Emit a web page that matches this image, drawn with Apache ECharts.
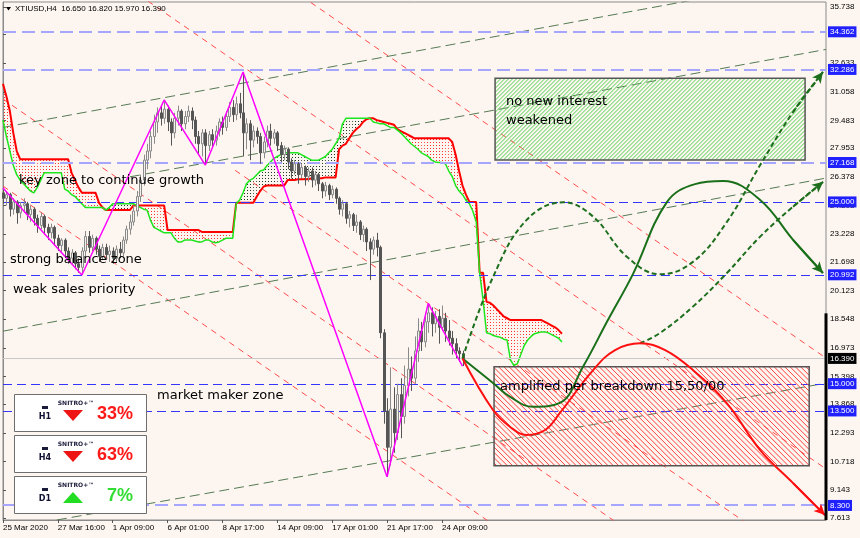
<!DOCTYPE html>
<html><head><meta charset="utf-8">
<script src="https://cdn.jsdelivr.net/npm/echarts@6/dist/echarts.min.js"></script>
<style>html,body{margin:0;padding:0;background:#fdf6f0}#c{width:860px;height:538px}</style>
</head><body><div id="c"></div>
<script>
// ---------------- data ----------------
const titleText = 'XTIUSD,H4  16.650 16.820 15.970 16.390';
const xLabelIdx = [0, 16, 32, 48, 64, 80, 96, 112, 128];
const xLabels = ['25 Mar 2020', '27 Mar 16:00', '1 Apr 09:00', '6 Apr 01:00', '8 Apr 17:00', '14 Apr 09:00', '17 Apr 01:00', '21 Apr 17:00', '24 Apr 09:00'];
const yTicks = [35.738, 34.208, 32.633, 31.058, 29.483, 27.953, 26.378, 24.803, 23.228, 21.698, 20.123, 18.548, 16.973, 15.398, 13.868, 12.293, 10.718, 9.143, 7.613];

// H4 candles: [open, close, low, high], one per bar index
const candles = [
[25.5,25.2,24.9,25.77],[25.2,25.4,24.8,25.6],[25.4,24.6,24.2,25.5],[24.6,25.0,24.3,25.2],[25.0,24.4,23.8,25.1],
[24.4,24.8,24.1,25.0],[24.8,24.9,24.4,25.2],[24.9,24.3,24.0,25.0],[24.3,24.6,23.9,24.8],[24.6,24.1,23.7,24.7],
[24.1,23.7,23.3,24.3],[23.7,24.2,23.5,24.4],[24.2,23.6,23.2,24.3],[23.6,23.3,22.9,23.8],[23.3,23.6,23.0,23.8],
[23.6,23.0,22.6,23.7],[23.0,22.6,22.3,23.2],[22.6,22.9,22.2,23.0],[22.9,22.3,22.0,23.0],[22.3,21.9,21.6,22.5],
[21.9,22.2,21.6,22.4],[22.2,21.6,21.3,22.3],[21.6,21.4,21.1,21.9],[21.4,22.3,20.98,22.5],[22.3,23.1,22.0,23.4],
[23.1,22.5,22.2,23.4],[22.5,23.0,22.3,23.2],[23.0,22.4,22.1,23.1],[22.4,22.0,21.7,22.6],[22.0,22.5,21.8,22.7],
[22.5,22.1,21.8,22.7],[22.1,22.3,21.7,22.6],[22.3,21.9,21.6,22.5],[21.9,22.4,21.7,22.6],[22.4,22.2,21.9,22.8],
[22.2,22.9,22.0,23.1],[22.9,23.5,22.7,23.7],[23.5,23.9,23.2,24.3],[23.9,24.5,23.7,24.8],[24.5,25.3,24.2,25.6],
[25.3,26.2,25.0,26.5],[26.2,27.3,25.9,27.6],[27.3,27.8,26.8,28.2],[27.8,28.6,27.4,28.9],[28.6,29.4,28.2,29.8],
[29.4,29.9,28.8,30.2],[29.9,29.6,29.2,30.3],[29.6,30.1,29.3,30.61],[30.1,29.4,28.9,30.3],[29.4,28.8,28.1,29.6],
[28.8,29.6,28.5,29.9],[29.6,30.0,29.2,30.3],[30.0,29.3,28.9,30.1],[29.3,29.7,29.0,30.0],[29.7,30.0,29.4,30.3],
[30.0,29.5,29.0,30.2],[29.5,28.6,28.2,29.7],[28.6,28.2,27.6,28.9],[28.2,28.8,27.5,29.0],[28.8,28.1,27.03,29.0],
[28.1,28.7,27.8,28.9],[28.7,28.4,28.0,29.0],[28.4,28.9,28.1,29.2],[28.9,29.4,28.6,29.6],[29.4,29.1,28.7,29.7],
[29.1,29.7,28.9,30.0],[29.7,30.2,29.4,30.5],[30.2,29.8,29.4,30.6],[29.8,30.4,29.5,30.8],[30.4,29.9,29.6,31.0],
[29.9,28.8,27.5,32.15],[28.8,29.3,27.9,29.6],[29.3,28.4,27.3,29.5],[28.4,28.9,28.0,29.2],[28.9,28.6,28.2,29.1],
[28.6,27.7,27.1,28.8],[27.7,28.3,27.4,28.6],[28.3,28.9,28.0,29.2],[28.9,28.5,28.1,29.3],[28.5,28.8,28.2,29.0],
[28.8,28.1,27.8,28.9],[28.1,27.6,27.2,28.3],[27.6,27.9,27.3,28.1],[27.9,27.2,26.8,28.0],[27.2,26.7,26.3,27.4],
[26.7,27.1,26.5,27.3],[27.1,26.5,26.0,27.2],[26.5,26.9,26.3,27.1],[26.9,26.4,25.9,27.0],[26.4,26.7,26.1,26.9],
[26.7,26.2,25.8,26.9],[26.2,26.5,25.9,26.7],[26.5,26.0,25.6,26.6],[26.0,25.6,25.2,26.1],[25.6,25.9,25.3,26.1],
[25.9,25.4,25.1,26.0],[25.4,25.7,25.2,25.9],[25.7,25.2,24.9,25.8],[25.2,24.6,24.3,25.3],[24.6,24.9,24.2,25.1],
[24.9,24.1,23.8,25.0],[24.1,24.3,23.6,24.5],[24.3,23.7,23.4,24.4],[23.7,23.9,23.3,24.3],[23.9,23.2,22.9,24.0],
[23.2,23.5,22.8,23.7],[23.5,22.8,22.3,23.6],[22.8,22.4,20.7,23.0],[22.4,22.9,22.1,23.1],[22.9,22.5,22.0,23.3],
[22.5,17.8,17.5,22.6],[17.8,13.5,12.8,18.0],[13.5,11.5,9.88,14.2],[11.5,13.6,10.5,15.9],[13.6,12.3,11.2,14.8],
[12.3,14.4,11.9,15.0],[14.4,13.2,12.0,15.3],[13.2,14.9,12.8,16.0],[14.9,15.8,14.3,17.0],[15.8,15.3,14.6,16.5],
[15.3,16.8,15.0,17.6],[16.8,17.9,16.2,18.6],[17.9,17.3,16.8,18.4],[17.3,18.4,17.0,18.9],[18.4,18.9,17.8,19.42],
[18.9,18.3,17.6,19.2],[18.3,18.7,17.8,19.0],[18.7,18.1,17.2,19.1],[18.1,18.6,17.9,19.3],[18.6,17.9,17.3,18.9],
[17.9,17.5,17.1,18.5],[17.5,17.2,16.6,17.9],[17.2,16.8,16.4,17.5],[16.8,16.65,16.2,17.0],[16.65,16.39,15.97,16.82]
];

// Ichimoku spans (red / green), one value per bar index (shifted forward)
const spanRed = [
31.5,30.8,30.0,28.8,27.8,27.35,27.35,27.35,27.35,27.35,
27.35,27.35,27.35,27.35,27.35,27.35,27.35,27.35,27.35,27.35,
26.6,26.2,25.8,25.5,25.5,25.5,25.5,25.5,24.95,24.7,
24.55,24.55,24.55,24.55,24.55,24.55,24.55,24.55,24.8,24.8,
24.8,24.8,24.8,24.8,24.8,24.8,24.8,24.8,23.45,23.45,
23.45,23.45,23.45,23.45,23.45,23.45,23.45,23.45,23.35,23.35,
23.35,23.35,23.35,23.35,23.35,23.35,23.35,23.35,24.95,24.95,
24.95,24.95,24.95,24.95,25.3,25.6,25.85,25.9,25.9,25.9,
25.9,25.9,25.9,26.2,26.2,26.2,26.25,26.25,26.25,26.25,
26.3,26.3,26.3,26.3,26.35,26.35,26.35,26.35,27.9,28.1,
28.2,28.5,28.8,29.0,29.15,29.4,29.55,29.6,29.6,29.5,
29.45,29.4,29.35,29.3,29.25,29.0,28.9,28.8,28.7,28.6,
28.5,28.5,28.5,28.5,28.5,28.5,28.5,28.5,28.5,28.5,
28.5,28.3,27.6,26.7,25.9,25.4,25.0,25.0,25.0,21.1,
21.1,19.5,19.45,19.3,19.1,18.9,18.7,18.6,18.5,18.5,
18.5,18.5,18.5,18.5,18.5,18.5,18.5,18.5,18.4,18.3,
18.2,18.1,17.95,17.75
];
const spanGreen = [
29.5,28.6,27.8,27.0,26.5,26.2,26.0,25.8,25.6,25.5,
25.8,26.2,26.6,26.6,26.6,26.6,26.6,26.6,25.7,25.6,
25.4,25.3,25.1,24.9,24.7,24.7,24.7,24.7,24.7,24.7,
24.55,24.7,24.9,24.9,24.9,24.9,24.9,24.9,24.9,24.8,
24.7,24.6,24.55,24.0,23.6,23.5,23.4,23.3,23.3,23.3,
23.0,22.8,22.8,22.9,22.9,22.9,22.85,22.8,22.8,22.9,
22.9,22.8,22.75,22.8,22.9,23.0,23.0,23.0,24.9,25.1,
25.5,26.0,26.2,26.3,26.5,26.7,26.76,27.0,27.2,27.4,
27.5,27.6,27.7,27.7,27.7,27.7,27.7,27.6,27.5,27.4,
27.3,27.3,27.3,27.4,27.5,27.7,27.9,28.2,28.5,29.3,
29.6,29.6,29.6,29.6,29.6,29.6,29.6,29.6,29.4,29.35,
29.3,29.3,29.2,29.1,29.1,28.95,28.8,28.6,28.4,28.2,
28.05,27.9,27.7,27.6,27.5,27.3,27.2,27.17,27.17,27.1,
26.7,26.4,25.9,25.6,25.4,25.1,24.9,24.5,23.9,21.1,
19.6,17.8,17.75,17.65,17.6,17.55,17.45,17.4,16.3,16.0,
16.1,16.6,17.1,17.4,17.6,17.75,17.8,17.85,17.85,17.8,
17.7,17.6,17.5,17.3
];

const zigzag = [[0,25.77],[23,20.98],[47,30.61],[59,27.03],[70,32.15],[112,9.88],[124,19.42],[134,15.97]];

// trend channel lines [bar, price] endpoints
const greenChannel1 = [[0,29.10],[240,37.46]];
const greenChannel2 = [[37,26.38],[240,33.39]];
const greenChannel3 = [[0,17.89],[240,26.31]];
const greenChannel4 = [[15.7,7.50],[240,15.03]];
const redLine1 = [[0,47.66],[240,16.41]];
const redLine2 = [[0,41.55],[240,10.31]];
const redLine3 = [[67.7,26.74],[240,4.31]];
const redLine4 = [[0,30.66],[240,-0.59]];
const redLine5 = [[0,25.87],[240,-5.38]];

const levelsMajor = [34.362, 32.286, 27.168, 8.300];
const levelsMinor = [25.000, 20.992, 15.000, 13.500];
const lastPrice = 16.390;
const scaleMarker = [[240,18.87],[240,7.5]];

// zones [barFrom, priceTop, barTo, priceBottom]
const greenZone = [143.5, 31.80, 233.9, 27.31];
const redZone = [143.2, 15.93, 235.1, 10.49];

// projected paths [bar, price]
const pathDashUp = [[134,16.39],[142.9,20.87],[152.7,24.01],[163.4,24.98],[172.1,24.19],[181.9,21.99],[191.6,21.02],[201.2,21.70],[211.1,23.90],[220.8,27.03],[230.4,29.95],[239.1,32.15]];
const pathDashUp2 = [[185.8,17.22],[191.6,17.79],[201.2,19.24],[211.1,21.09],[220.8,23.09],[230.4,24.74],[239.2,26.11]];
const pathGreen = [[134,16.39],[142.9,15.04],[147.9,14.27],[154.6,13.73],[162.4,13.94],[169.1,15.92],[176.4,18.50],[183.7,21.03],[193.6,24.99],[201.8,25.98],[210.0,26.15],[220.8,25.11],[230.4,22.91],[239.1,21.09]];
const pathRed = [[134,16.39],[142.9,13.55],[147.9,12.62],[152.7,12.18],[158.1,12.45],[162.4,13.39],[172.1,15.75],[178.5,16.85],[185.8,17.22],[193.1,16.85],[201.2,15.75],[211.1,13.92],[220.8,11.35],[230.4,9.53],[239.7,7.77]];

const noteTexts = ['key zone to continue growth', 'strong balance zone', 'weak sales priority', 'market maker zone', 'no new interest', 'weakened', 'amplified per breakdown 15,50/00'];
const panelFrames = ['H1', 'H4', 'D1'];
const panelValues = ['33%', '63%', '7%'];
const panelDirs = ['down', 'down', 'up'];
const panelBrand = 'SNITRO+™';

// ---------------- styles / helpers ----------------
function tile(size, color, pts) {
  const cv = document.createElement('canvas'); cv.width = size; cv.height = size;
  const ctx = cv.getContext('2d'); ctx.fillStyle = color;
  pts.forEach(p => ctx.fillRect(p[0], p[1], 1, 1));
  return { image: cv, repeat: 'repeat' };
}
const redDots = tile(3, '#ff2a2a', [[1,1]]);
const darkDots = tile(3, '#1e3a1e', [[1,1]]);

const candleData = candles.map((c, i) => [i, c[0], c[1], c[2], c[3]]);
const cloudData = [];
for (let i = 0; i < spanRed.length - 1; i++) cloudData.push([i, spanRed[i], spanGreen[i], spanRed[i+1], spanGreen[i+1]]);

const AXF = 'Liberation Sans';
function levelItem(v, bg, fg) {
  return { yAxis: v, lineStyle: { color: 'rgba(0,0,0,0)', width: 0 },
    label: { show: true, position: 'end', distance: 2, formatter: v.toFixed(3), color: fg, backgroundColor: bg,
      padding: [1, 2, 0, 2], fontSize: 8, fontFamily: AXF, lineHeight: 10 } };
}
function straight(data, color, dash, width) {
  return { type: 'line', data: data, showSymbol: false, silent: true, clip: true, z: 2,
    lineStyle: { color: color, width: width || 1, type: dash } };
}
function path(data, color, dash) {
  const n = data.length;
  return { type: 'line', data: data, showSymbol: false, silent: true, smooth: 0.4, z: 6,
    lineStyle: { color: color, width: 2, type: dash },
    markLine: { silent: true, symbol: ['none', 'arrow'], symbolSize: [8, 11], label: { show: false },
      lineStyle: { color: color, width: 2, type: dash },
      data: [[{ coord: data[n-2] }, { coord: data[n-1] }]] } };
}
// hatched zone: diagonal lines clipped to the zone rectangle
function zoneSeries(zone, lineColor, step, forward) {
  return { type: 'custom', z: 5, silent: true, data: [zone], encode: { x: [0, 2], y: [1, 3] },
    renderItem: function (params, api) {
      const p1 = api.coord([api.value(0), api.value(1)]);
      const p2 = api.coord([api.value(2), api.value(3)]);
      const x0 = p1[0], y0 = p1[1], w = p2[0] - p1[0], h = p2[1] - p1[1];
      const kids = [];
      if (forward) {
        for (let k = step / 2; k < w + h; k += step) {
          const ua = Math.max(0, k - h), ub = Math.min(w, k);
          kids.push({ type: 'line', shape: { x1: x0 + ua, y1: y0 + (k - ua), x2: x0 + ub, y2: y0 + (k - ub) }, style: { stroke: lineColor, lineWidth: 1 } });
        }
      } else {
        for (let k = -h + step / 2; k < w; k += step) {
          const ua = Math.max(0, k), ub = Math.min(w, k + h);
          kids.push({ type: 'line', shape: { x1: x0 + ua, y1: y0 + (ua - k), x2: x0 + ub, y2: y0 + (ub - k) }, style: { stroke: lineColor, lineWidth: 1 } });
        }
      }
      kids.push({ type: 'rect', shape: { x: x0, y: y0, width: w, height: h }, style: { fill: 'none', stroke: '#555', lineWidth: 1.5 } });
      return { type: 'group', children: kids };
    } };
}
// horizontal level lines drawn across the grid (x 0..240)
function levelLines(values, color, width, dash) {
  return { type: 'custom', z: 3, silent: true, data: values.map(v => [0, v, 240]), encode: { x: [0, 2], y: 1 },
    renderItem: function (params, api) {
      const a = api.coord([api.value(0), api.value(1)]);
      const b = api.coord([api.value(2), api.value(1)]);
      const y = Math.round(a[1]) + (width % 2 ? 0.5 : 0);
      return { type: 'line', shape: { x1: a[0], y1: y, x2: b[0], y2: y }, style: { stroke: color, lineWidth: width, lineDash: dash } };
    } };
}

// ---------------- graphics (text annotations + panels) ----------------
const NF = '13px "DejaVu Sans"';
const notePos = [[19,181],[10,260],[13,290],[157,396],[506,102],[506,121],[500,387]];
const graphics = [];
graphics.push({ type: 'polygon', z: 100, shape: { points: [[6,7],[11,7],[8.5,10.5]] }, style: { fill: '#000' } });
graphics.push({ type: 'text', z: 100, style: { text: titleText, x: 15, y: 9, font: '8px "Liberation Sans"', fill: '#000', verticalAlign: 'middle' } });
noteTexts.forEach((t, k) => graphics.push({ type: 'text', z: 100,
  style: { text: t, x: notePos[k][0], y: notePos[k][1], font: NF, fill: '#000', verticalAlign: 'middle' } }));
const panelTop = [394, 435, 476];
panelFrames.forEach((f, k) => {
  const y0 = panelTop[k];
  const up = panelDirs[k] === 'up';
  const col = up ? '#22dd22' : '#ee1414';
  graphics.push({ type: 'rect', z: 100, shape: { x: 14.5, y: y0 + 0.5, width: 132, height: 37 }, style: { fill: '#fff', stroke: '#6e6e6e', lineWidth: 1 } });
  graphics.push({ type: 'rect', z: 101, shape: { x: 42, y: y0 + 12, width: 6, height: 3 }, style: { fill: '#1a1a3a' } });
  graphics.push({ type: 'text', z: 101, style: { text: f, x: 45, y: y0 + 23, font: 'bold 9px "DejaVu Sans Condensed"', fill: '#101030', align: 'center', verticalAlign: 'middle' } });
  graphics.push({ type: 'text', z: 101, style: { text: panelBrand, x: 76, y: y0 + 9, font: 'bold 6px "DejaVu Sans"', fill: '#1a1a3a', align: 'center', verticalAlign: 'middle' } });
  graphics.push({ type: 'polygon', z: 101, shape: { points: up ? [[63,y0+27],[83,y0+27],[73,y0+16]] : [[63,y0+16],[83,y0+16],[73,y0+27]] }, style: { fill: col } });
  graphics.push({ type: 'text', z: 101, style: { text: panelValues[k], x: 133, y: y0 + 20, font: 'bold 18px "Liberation Sans"', fill: up ? '#33dd33' : '#ff1a1a', align: 'right', verticalAlign: 'middle' } });
});

// ---------------- chart ----------------
const chart = echarts.init(document.getElementById('c'), null, { renderer: 'canvas', width: 860, height: 538 });
chart.setOption({
  animation: false,
  backgroundColor: '#fdf6f0',
  grid: { left: 3, right: 34, top: 2, bottom: 18, show: true, borderColor: '#8a8a8a', borderWidth: 1, backgroundColor: 'transparent' },
  xAxis: { type: 'value', min: 0, max: 240,
    axisLine: { show: true, lineStyle: { color: '#8a8a8a' } },
    axisTick: { show: true, customValues: xLabelIdx, length: 3, lineStyle: { color: '#555' } },
    axisLabel: { customValues: xLabelIdx, formatter: v => xLabels[xLabelIdx.indexOf(v)] || '', align: 'left', margin: 4, fontSize: 8, fontFamily: AXF, color: '#000' },
    splitLine: { show: false } },
  yAxis: { type: 'value', position: 'right', min: 7.5, max: 36,
    axisLine: { show: true, lineStyle: { color: '#8a8a8a' } },
    axisTick: { show: true, customValues: yTicks, length: 3, lineStyle: { color: '#555' } },
    axisLabel: { customValues: yTicks, formatter: v => v.toFixed(3), margin: 4, fontSize: 8, fontFamily: AXF, color: '#000' },
    splitLine: { show: false } },
  graphic: graphics,
  series: [
    { type: 'custom', z: 1, silent: true, data: cloudData, encode: { x: 0, y: [1, 2] },
      renderItem: function (params, api) {
        const i = api.value(0), a0 = api.value(1), b0 = api.value(2), a1 = api.value(3), b1 = api.value(4);
        const pts = [api.coord([i, a0]), api.coord([i + 1, a1]), api.coord([i + 1, b1]), api.coord([i, b0])];
        return { type: 'polygon', shape: { points: pts }, style: { fill: (a0 + a1 >= b0 + b1) ? redDots : darkDots } };
      } },
    straight(redLine1, '#ff4a4a', [6, 5]),
    straight(redLine2, '#ff4a4a', [6, 5]),
    straight(redLine3, '#ff4a4a', [6, 5]),
    straight(redLine4, '#ff4a4a', [6, 5]),
    straight(redLine5, '#ff4a4a', [6, 5]),
    straight(greenChannel1, '#557a55', [10, 5]),
    straight(greenChannel2, '#557a55', [10, 5]),
    straight(greenChannel3, '#557a55', [10, 5]),
    straight(greenChannel4, '#557a55', [10, 5]),
    { type: 'line', data: spanRed.map((v, i) => [i, v]), showSymbol: false, silent: true, z: 2, lineStyle: { color: '#ff0000', width: 2 } },
    { type: 'line', data: spanGreen.map((v, i) => [i, v]), showSymbol: false, silent: true, z: 2, lineStyle: { color: '#1ee61e', width: 1.5 } },
    levelLines(levelsMinor, '#3535ff', 1, [9, 5]),
    levelLines(levelsMajor, '#a6a6ff', 2, [13, 6]),
    levelLines([lastPrice], '#c8c8c8', 1, null),
    { type: 'line', data: [[0, lastPrice]], showSymbol: false, silent: true, z: 8,
      markLine: { silent: true, symbol: ['none', 'none'], z: 8,
        data: levelsMinor.concat(levelsMajor).map(v => levelItem(v, '#2020ff', '#fff'))
          .concat([levelItem(lastPrice, '#000', '#fff')]) } },
    { type: 'custom', z: 3, silent: true, data: candleData, encode: { x: 0, y: [1, 2, 3, 4] },
      renderItem: function (params, api) {
        const i = api.value(0), o = api.value(1), c = api.value(2), l = api.value(3), h = api.value(4);
        const po = api.coord([i, o]), pc = api.coord([i, c]), pl = api.coord([i, l]), ph = api.coord([i, h]);
        const x = Math.round(po[0]) + 0.5;
        const bull = c >= o;
        const col = bull ? '#8a8a8a' : '#555555';
        const top = Math.min(po[1], pc[1]), bot = Math.max(po[1], pc[1]);
        return { type: 'group', children: [
          { type: 'line', shape: { x1: x, y1: ph[1], x2: x, y2: pl[1] }, style: { stroke: col, lineWidth: 1 } },
          { type: 'rect', shape: { x: x - 1, y: top, width: 2, height: Math.max(1, bot - top) }, style: { fill: bull ? '#f4f1ec' : '#555555', stroke: col, lineWidth: 1 } }
        ] };
      } },
    { type: 'line', data: zigzag, showSymbol: false, silent: true, z: 4, lineStyle: { color: '#ff00ff', width: 1.5 } },
    zoneSeries(greenZone, '#52d152', 4, true),
    zoneSeries(redZone, '#ff4040', 5.3, false),
    path(pathDashUp, '#1d6e1d', [5, 3]),
    path(pathDashUp2, '#1d6e1d', [5, 3]),
    path(pathGreen, '#1a701a', 'solid'),
    path(pathRed, '#ff1010', 'solid'),
    { type: 'line', data: scaleMarker, showSymbol: false, silent: true, clip: false, z: 7, lineStyle: { color: '#000', width: 3 } }
  ]
});
</script>
</body></html>
